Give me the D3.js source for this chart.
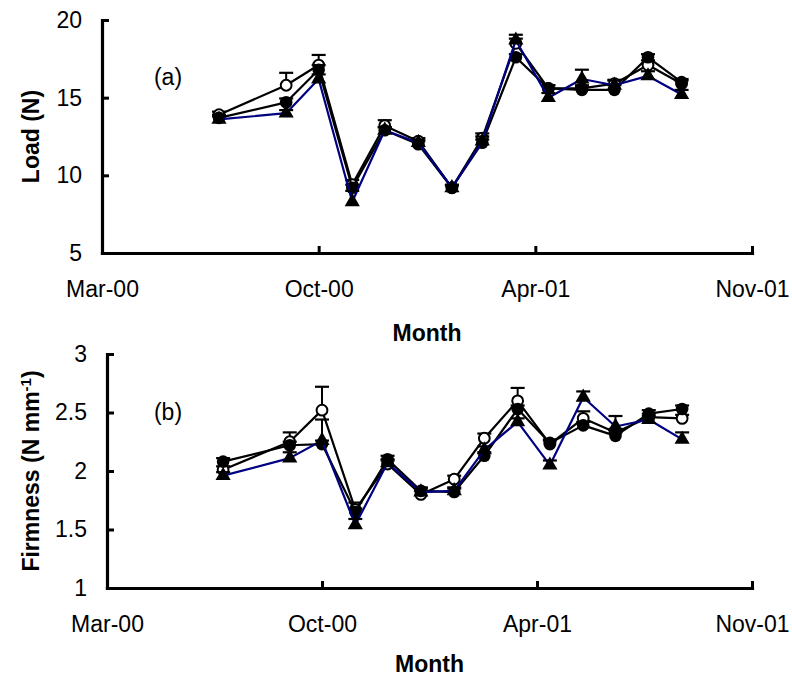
<!DOCTYPE html>
<html>
<head>
<meta charset="utf-8">
<script src="https://cdn.jsdelivr.net/npm/d3@7"></script>
<style>
  html, body { margin: 0; padding: 0; background: #fff; }
  svg { display: block; font-family: "Liberation Sans", Arial, sans-serif; }
</style>
</head>
<body>
<svg id="chart" width="792" height="681"></svg>
<script>
// Sampling dates (one sample per month, plus an early July sample)
const sampleDates = ["2000-07-01","2000-09-01","2000-10-01","2000-11-01","2000-12-01",
  "2001-01-01","2001-02-01","2001-03-01","2001-04-01","2001-05-01","2001-06-01",
  "2001-07-01","2001-08-01","2001-09-01"];

// Date axis ticks (200-day spacing) and their labels
const tickDates = ["2000-03-15","2000-10-01","2001-04-19","2001-11-05"];
const tickLabels = ["Mar-00","Oct-00","Apr-01","Nov-01"];

// (a) Load (N)
const loadOpen    = [13.9,15.8,17.1,9.4,13.2,12.2,9.2,12.4,18.5,15.6,15.6,15.9,17.1,15.9];
const loadFilled  = [13.7,14.7,16.8,9.2,12.9,12.0,9.2,12.1,17.6,15.6,15.5,15.5,17.6,16.0];
const loadTri     = [13.6,14.0,16.2,8.3,12.9,12.1,9.2,12.2,18.7,15.0,16.2,15.8,16.4,15.2];
const loadOpenErr   = [0.2,0.8,0.65,0.3,0.35,0.2,0.15,0.3,0.3,0.2,0.2,0.25,0.3,0.2];
const loadFilledErr = [0.2,0.25,0.3,0.2,0.2,0.2,0.15,0.2,0.2,0.2,0.2,0.3,0.2,0.2];
const loadTriErr    = [0.2,0.2,0.3,0.7,0.2,0.2,0.2,0.3,0.35,0.3,0.6,0.3,0.3,0.3];
const loadTicks = [5,10,15,20];

// (b) Firmness (N mm-1)
const firmOpen    = [2.01,2.25,2.52,1.67,2.06,1.80,1.93,2.28,2.60,2.23,2.45,2.33,2.46,2.45];
const firmFilled  = [2.08,2.22,2.23,1.65,2.10,1.83,1.82,2.13,2.53,2.24,2.39,2.30,2.49,2.53];
const firmTri     = [1.96,2.11,2.26,1.54,2.07,1.82,1.83,2.18,2.42,2.05,2.63,2.38,2.44,2.27];
const firmOpenErr   = [0.03,0.08,0.2,0.06,0.03,0.03,0.03,0.04,0.11,0.03,0.06,0.03,0.03,0.03];
const firmFilledErr = [0.03,0.03,0.03,0.03,0.03,0.03,0.03,0.03,0.03,0.03,0.03,0.03,0.03,0.03];
const firmTriErr    = [0.03,0.05,0.18,0.05,0.03,0.03,0.03,0.03,0.03,0.04,0.05,0.09,0.03,0.06];
const firmTicks = [1,1.5,2,2.5,3];

const parse = d3.utcParse("%Y-%m-%d");
const svg = d3.select("#chart");
const FONT = 23;

function drawPanel(cfg) {
  const { left, right, top, bottom } = cfg;
  const g = svg.append("g");

  const x = d3.scaleUtc()
    .domain([parse(tickDates[0]), parse(tickDates[tickDates.length - 1])])
    .range([left, right]);
  const y = d3.scaleLinear().domain(cfg.yDomain).range([bottom, top]);

  // x axis
  const xAxis = d3.axisBottom(x)
    .tickValues(tickDates.map(parse))
    .tickFormat((d, i) => tickLabels[i])
    .tickSizeInner(-7).tickSizeOuter(0).tickPadding(cfg.xPad);
  const gx = g.append("g").attr("transform", `translate(0,${bottom})`).call(xAxis);

  // y axis
  const yAxis = d3.axisLeft(y)
    .tickValues(cfg.yTicks)
    .tickFormat(d3.format("~g"))
    .tickSizeInner(-7).tickSizeOuter(0).tickPadding(20);
  const gy = g.append("g").attr("transform", `translate(${left},0)`).call(yAxis);

  [gx, gy].forEach(ax => {
    ax.select(".domain").attr("stroke", "#000").attr("stroke-width", 3.2)
      .attr("stroke-linecap", "square");
    ax.selectAll(".tick line").attr("stroke", "#000").attr("stroke-width", 3);
    ax.selectAll(".tick text").attr("fill", "#000")
      .style("font-size", FONT + "px")
      .style("font-family", "'Liberation Sans', Arial, sans-serif");
  });

  // axis titles
  g.append("text")
    .attr("x", (left + right) / 2).attr("y", cfg.monthY)
    .attr("text-anchor", "middle")
    .style("font-size", FONT + "px").style("font-weight", "bold")
    .text("Month");

  const yt = g.append("text")
    .attr("transform", `translate(${cfg.yTitleX},${(top + bottom) / 2}) rotate(-90)`)
    .attr("text-anchor", "middle")
    .style("font-size", FONT + "px").style("font-weight", "bold");
  cfg.yTitle(yt);

  g.append("text")
    .attr("x", cfg.tagX).attr("y", cfg.tagY)
    .attr("text-anchor", "middle")
    .style("font-size", FONT + "px")
    .text(cfg.tag);

  const dates = sampleDates.map(parse);
  const line = d3.line().x((d, i) => x(dates[i])).y(d => y(d));

  // series drawn in order: open circles, filled circles, triangles (navy line)
  const series = [
    { vals: cfg.open, err: cfg.openErr, color: "#000", marker: "open" },
    { vals: cfg.filled, err: cfg.filledErr, color: "#000", marker: "filled" },
    { vals: cfg.tri, err: cfg.triErr, color: "#000080", marker: "tri" }
  ];

  series.forEach(s => {
    const sg = g.append("g");
    sg.append("path").datum(s.vals)
      .attr("d", line).attr("fill", "none")
      .attr("stroke", s.color).attr("stroke-width", 2.2)
      .attr("stroke-linejoin", "round");

    s.vals.forEach((v, i) => {
      const cx = x(dates[i]);
      const y0 = y(v), y1 = y(v + s.err[i]);
      sg.append("line").attr("x1", cx).attr("x2", cx).attr("y1", y0).attr("y2", y1)
        .attr("stroke", "#000").attr("stroke-width", 2);
      sg.append("line").attr("x1", cx - 7).attr("x2", cx + 7).attr("y1", y1).attr("y2", y1)
        .attr("stroke", "#000").attr("stroke-width", 2.2);
    });

    s.vals.forEach((v, i) => {
      const cx = x(dates[i]), cy = y(v);
      if (s.marker === "tri") {
        sg.append("path")
          .attr("d", d3.symbol(d3.symbolTriangle).size(100)())
          .attr("transform", `translate(${cx},${cy})`)
          .attr("fill", "#000");
      } else if (s.marker === "filled") {
        sg.append("circle").attr("cx", cx).attr("cy", cy).attr("r", 6.3).attr("fill", "#000");
      } else {
        sg.append("circle").attr("cx", cx).attr("cy", cy).attr("r", 5.4)
          .attr("fill", "#fff").attr("stroke", "#000").attr("stroke-width", 2);
      }
    });
  });
}

drawPanel({
  left: 102, right: 752, top: 20, bottom: 253,
  yDomain: [5, 20], yTicks: loadTicks, xPad: 28,
  monthY: 341, yTitleX: 39, tag: "(a)", tagX: 168, tagY: 85,
  yTitle: t => t.text("Load (N)"),
  open: loadOpen, filled: loadFilled, tri: loadTri,
  openErr: loadOpenErr, filledErr: loadFilledErr, triErr: loadTriErr
});

drawPanel({
  left: 107, right: 752, top: 354, bottom: 588,
  yDomain: [1, 3], yTicks: firmTicks, xPad: 28,
  monthY: 672, yTitleX: 39, tag: "(b)", tagX: 168, tagY: 420,
  yTitle: t => {
    t.append("tspan").text("Firmness (N mm");
    t.append("tspan").attr("dy", -8).style("font-size", "15px").text("-1");
    t.append("tspan").attr("dy", 8).text(")");
  },
  open: firmOpen, filled: firmFilled, tri: firmTri,
  openErr: firmOpenErr, filledErr: firmFilledErr, triErr: firmTriErr
});
</script>
</body>
</html>
